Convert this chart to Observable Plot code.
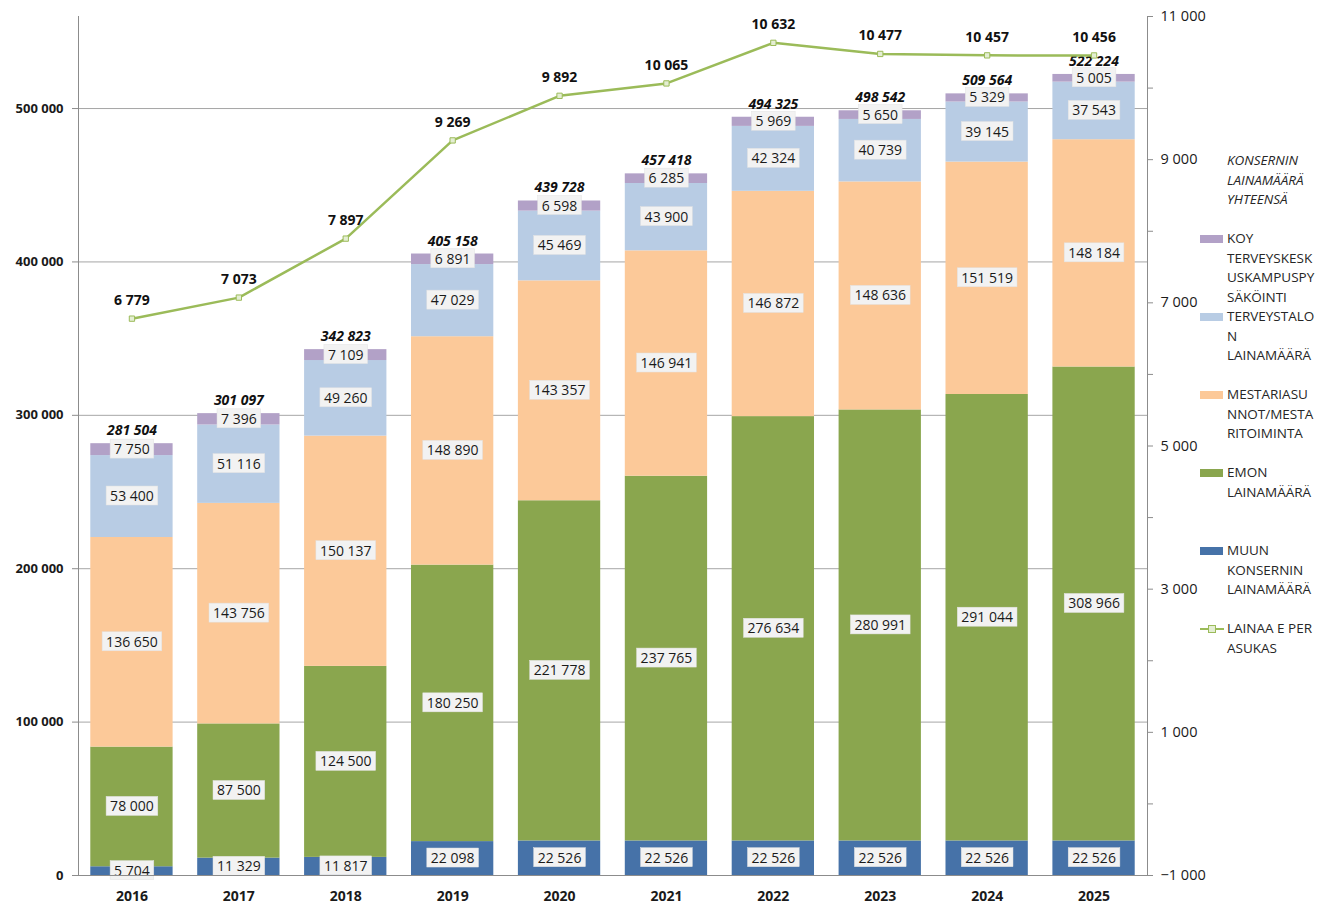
<!DOCTYPE html>
<html><head><meta charset="utf-8">
<script src="https://cdn.jsdelivr.net/npm/d3@7"></script>
<script src="https://cdn.jsdelivr.net/npm/@observablehq/plot@0.6"></script>
<style>
body{margin:0;background:#fff;font-family:"Open Sans",sans-serif;}
#wrap{position:relative;width:1333px;height:905px;overflow:hidden;}
#legend{position:absolute;left:0;top:0;font-size:13.5px;color:#262626;}
.li{position:absolute;white-space:nowrap;line-height:19.6px;}
.sw{position:absolute;}
</style></head><body>
<div id="wrap"><div id="chart"></div><div id="legend"></div></div>
<script>
const years = ["2016","2017","2018","2019","2020","2021","2022","2023","2024","2025"];
const muun = [5704, 11329, 11817, 22098, 22526, 22526, 22526, 22526, 22526, 22526];
const emon = [78000, 87500, 124500, 180250, 221778, 237765, 276634, 280991, 291044, 308966];
const mestari = [136650, 143756, 150137, 148890, 143357, 146941, 146872, 148636, 151519, 148184];
const terveystalo = [53400, 51116, 49260, 47029, 45469, 43900, 42324, 40739, 39145, 37543];
const koy = [7750, 7396, 7109, 6891, 6598, 6285, 5969, 5650, 5329, 5005];
const totals = [281504, 301097, 342823, 405158, 439728, 457418, 494325, 498542, 509564, 522224];
const perAsukas = [6779, 7073, 7897, 9269, 9892, 10065, 10632, 10477, 10457, 10456];

const seriesNames = ["muun", "emon", "mestari", "terveystalo", "koy"];
const seriesValues = [muun, emon, mestari, terveystalo, koy];
const seriesColors = ["#4672A8", "#8AA64E", "#FCC999", "#B8CCE4", "#B2A1C7"];
const lineColor = "#9BBB59";

const leftTicks = [0, 100000, 200000, 300000, 400000, 500000];
const rightTicks = [-1000, 0, 1000, 2000, 3000, 4000, 5000, 6000, 7000, 8000, 9000, 10000, 11000];
const rightLabelled = [-1000, 1000, 3000, 5000, 7000, 9000, 11000];

const legendItems = [
  {kind: "none", italic: true, lines: ["KONSERNIN", "LAINAMÄÄRÄ", "YHTEENSÄ"]},
  {kind: "box", color: seriesColors[4], lines: ["KOY", "TERVEYSKESK", "USKAMPUSPY", "SÄKÖINTI"]},
  {kind: "box", color: seriesColors[3], lines: ["TERVEYSTALO", "N", "LAINAMÄÄRÄ"]},
  {kind: "box", color: seriesColors[2], lines: ["MESTARIASU", "NNOT/MESTA", "RITOIMINTA"]},
  {kind: "box", color: seriesColors[1], lines: ["EMON", "LAINAMÄÄRÄ"]},
  {kind: "box", color: seriesColors[0], lines: ["MUUN", "KONSERNIN", "LAINAMÄÄRÄ"]},
  {kind: "line", color: lineColor, lines: ["LAINAA E PER", "ASUKAS"]}
];

const fmt = v => d3.format(",")(Math.round(v)).replace(/,/g, " ");
const L_MAX = 560000, R_MIN = -1000, R_MAX = 11000;
const r2l = v => (v - R_MIN) / (R_MAX - R_MIN) * L_MAX;
const l2r = v => v / L_MAX * (R_MAX - R_MIN) + R_MIN;

const rows = [];
years.forEach((yr, i) => {
  let acc = 0;
  seriesNames.forEach((s, j) => {
    const v = seriesValues[j][i];
    rows.push({year: yr, series: s, value: v, mid: acc + v / 2});
    acc += v;
  });
});
const totRows = years.map((yr, i) => ({year: yr, total: totals[i]}));
const lineRows = years.map((yr, i) => ({year: yr, v: perAsukas[i]}));

const svg = Plot.plot({
  width: 1333, height: 905,
  marginLeft: 78, marginRight: 186, marginTop: 16, marginBottom: 30,
  style: {fontFamily: "'Open Sans', sans-serif", fontSize: "14px", color: "#1a1a1a", background: "#fff"},
  x: {domain: years, paddingInner: 0.23, paddingOuter: 0.115, round: false, label: null},
  y: {domain: [0, L_MAX], label: null},
  color: {domain: seriesNames, range: seriesColors},
  marks: [
    Plot.gridY(leftTicks, {stroke: "#A6A6A6", strokeOpacity: 1}),
    Plot.barY(rows, {x: "year", y: "value", fill: "series", order: seriesNames}),
    Plot.text(rows, {x: "year", y: "mid", text: d => fmt(d.value), fill: "#1a1a1a", fontSize: 14}),
    Plot.text(totRows, {x: "year", y: "total", text: d => fmt(d.total), dy: -13, fontWeight: "bold", fontStyle: "italic", fontSize: 14, fill: "#111"}),
    Plot.line(lineRows, {x: "year", y: d => r2l(d.v), stroke: lineColor, strokeWidth: 2.5}),
    Plot.dot(lineRows, {x: "year", y: d => r2l(d.v), symbol: "square", r: 3, fill: "#E4EED3", stroke: lineColor, strokeWidth: 1}),
    Plot.text(lineRows, {x: "year", y: d => r2l(d.v), text: d => fmt(d.v), dy: -18, fontWeight: "bold", fontSize: 14, fill: "#111"}),
    Plot.ruleY([0], {stroke: "#8C8C8C"}),
    Plot.frame({anchor: "left", stroke: "#8C8C8C"}),
    Plot.frame({anchor: "right", stroke: "#8C8C8C"}),
    Plot.axisY(leftTicks, {anchor: "left", tickFormat: fmt, fontWeight: "bold", fontSize: 13, tickSize: 6, tickPadding: 9, stroke: "#8C8C8C", label: null}),
    Plot.axisY(rightTicks.map(r2l), {anchor: "right", tickFormat: d => { const r = Math.round(l2r(d)); return rightLabelled.includes(r) ? fmt(r) : ""; }, fontSize: 14.5, tickSize: 5, tickPadding: 8, stroke: "#8C8C8C", label: null}),
    Plot.axisX({anchor: "bottom", fontWeight: "bold", fontSize: 14, tickSize: 0, tickPadding: 16, label: null})
  ]
});
document.getElementById("chart").appendChild(svg);

// label boxes behind segment values
const ns = "http://www.w3.org/2000/svg";
const g = svg.querySelectorAll('g[aria-label="text"]')[0];
if (g) {
  g.querySelectorAll("text").forEach(t => {
    const b = t.getBBox();
    const r = document.createElementNS(ns, "rect");
    r.setAttribute("x", b.x - 4);
    r.setAttribute("y", b.y);
    r.setAttribute("width", b.width + 8);
    r.setAttribute("height", b.height);
    r.setAttribute("fill", "#F2F2F2");
    r.setAttribute("stroke", "#E2E2E2");
    r.setAttribute("stroke-width", "0.5");
    const tr = t.getAttribute("transform");
    if (tr) r.setAttribute("transform", tr);
    g.insertBefore(r, t);
  });
}

// legend
const leg = document.getElementById("legend");
const LH = 19.6;
legendItems.forEach((it, i) => {
  const top = 151 + 78 * i;
  it.lines.forEach((ln, k) => {
    const d = document.createElement("div");
    d.className = "li";
    d.style.left = "1227px";
    d.style.top = (top + k * LH) + "px";
    if (it.italic) d.style.fontStyle = "italic";
    d.textContent = ln;
    leg.appendChild(d);
  });
  const cy = top + LH / 2;
  if (it.kind === "box") {
    const s = document.createElement("div");
    s.className = "sw";
    Object.assign(s.style, {left: "1200px", top: (cy - 4) + "px", width: "23px", height: "8px", background: it.color});
    leg.appendChild(s);
  } else if (it.kind === "line") {
    const s = document.createElement("div");
    s.className = "sw";
    Object.assign(s.style, {left: "1200px", top: (cy - 1) + "px", width: "24px", height: "2.5px", background: it.color});
    leg.appendChild(s);
    const m = document.createElement("div");
    m.className = "sw";
    Object.assign(m.style, {left: "1208px", top: (cy - 3.5) + "px", width: "6px", height: "6px", background: "#E4EED3", border: "1px solid " + it.color});
    leg.appendChild(m);
  }
});
</script>
</body></html>
